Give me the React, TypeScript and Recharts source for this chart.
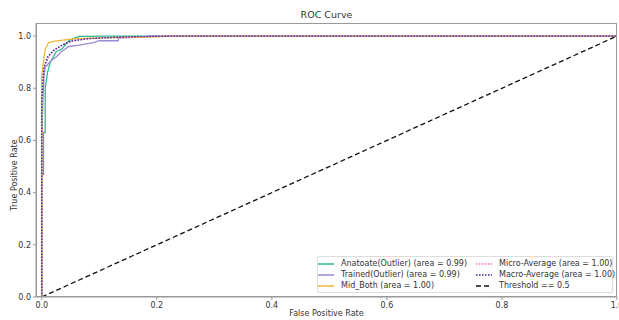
import React from 'react';
import { LineChart, Line, XAxis, YAxis } from 'recharts';

// ROC points, [fpr, tpr]
const anatoate: [number, number][] = [
    [0, 0], [0, 0.47], [0.003, 0.47], [0.003, 0.63], [0.006, 0.63], [0.006, 0.8],
    [0.01, 0.86], [0.015, 0.9], [0.025, 0.94], [0.035, 0.95], [0.046, 0.98],
    [0.055, 0.99], [0.065, 0.999], [0.12, 1], [1, 1],
];
const trained: [number, number][] = [
    [0, 0], [0, 0.6], [0.002, 0.75], [0.004, 0.85], [0.006, 0.88], [0.016, 0.905],
    [0.025, 0.92], [0.034, 0.94], [0.047, 0.96], [0.065, 0.965], [0.09, 0.975],
    [0.1, 0.982], [0.133, 0.982], [0.133, 0.992], [0.16, 0.995], [0.19, 1], [1, 1],
];
const midBoth: [number, number][] = [
    [0, 0], [0, 0.85], [0.003, 0.9], [0.006, 0.95], [0.012, 0.975], [0.02, 0.98],
    [0.04, 0.985], [0.06, 0.99], [0.1, 0.993], [0.2, 0.997], [0.22, 1], [1, 1],
];
const microAvg: [number, number][] = [
    [0, 0], [0, 0.8], [0.003, 0.87], [0.008, 0.9], [0.015, 0.93], [0.025, 0.95],
    [0.04, 0.97], [0.06, 0.985], [0.1, 0.993], [0.15, 0.997], [0.23, 1], [1, 1],
];
const macroAvg: [number, number][] = [
    [0, 0], [0, 0.75], [0.004, 0.88], [0.01, 0.92], [0.02, 0.945], [0.035, 0.965],
    [0.05, 0.98], [0.08, 0.99], [0.15, 0.997], [0.24, 1], [1, 1],
];
const threshold: [number, number][] = [[0, 0], [1, 1]];

const xTicks = [0, 0.2, 0.4, 0.6, 0.8, 1.0];
const yTicks = [0, 0.2, 0.4, 0.6, 0.8, 1.0];

const series = [
    { name: 'Anatoate(Outlier) (area = 0.99)', pts: anatoate, color: '#2bbd8c', dash: undefined },
    { name: 'Trained(Outlier) (area = 0.99)', pts: trained, color: '#9a8ad8', dash: undefined },
    { name: 'Mid_Both (area = 1.00)', pts: midBoth, color: '#f0b83a', dash: undefined },
    { name: 'Micro-Average (area = 1.00)', pts: microAvg, color: '#ff5fc8', dash: '1.5 1.5' },
    { name: 'Macro-Average (area = 1.00)', pts: macroAvg, color: '#2a2a9a', dash: '1.5 1.5' },
    { name: 'Threshold == 0.5', pts: threshold, color: '#111111', dash: '5 3' },
];

const font = '"DejaVu Sans", sans-serif';
const spine = '#999';
const textColor = '#333';
const tickStyle = { fontSize: 8, fill: textColor, fontFamily: font };

const toRows = (pts: [number, number][]) => pts.map(([x, y]) => ({ x, y }));

const LegendBox = () => (
    // two columns, filled column by column like matplotlib ncol=2
    <div style={{ position: 'absolute', left: 0, top: 0, fontFamily: font, fontSize: 8, color: textColor }}>
        <div style={{
            position: 'absolute', left: 317, top: 256, width: 296, height: 37,
            border: '1px solid #ddd', borderRadius: 2, background: 'rgba(255,255,255,0.8)', boxSizing: 'border-box',
        }} />
        {series.map((s, i) => {
            const col = Math.floor(i / 3);
            const row = i % 3;
            const x = col === 0 ? 318 : 476;
            const y = 263.5 + row * 11;
            return (
                <div key={s.name} style={{
                    position: 'absolute', left: x, top: y - 6, height: 12,
                    display: 'flex', alignItems: 'center', whiteSpace: 'nowrap',
                }}>
                    <svg width={23} height={6}>
                        <line x1={0} y1={3} x2={16} y2={3} stroke={s.color} strokeWidth={1.5} strokeDasharray={s.dash} />
                    </svg>
                    <span>{s.name}</span>
                </div>
            );
        })}
    </div>
);

export default function App() {
    return (
        <div style={{ position: 'absolute', left: 0, top: 0, width: 619, height: 320, background: '#fff' }}>
            <LineChart width={619} height={320} margin={{ top: 23, right: 2, left: 0, bottom: 0 }}>
                <XAxis
                    dataKey="x" type="number" domain={[-0.01, 1.0]} allowDataOverflow
                    ticks={xTicks} tickFormatter={(v: number) => v.toFixed(1)}
                    height={23} stroke={spine} tick={tickStyle} tickSize={3} interval={0}
                />
                <YAxis
                    type="number" domain={[0, 1.05]} allowDataOverflow ticks={yTicks}
                    tickFormatter={(v: number) => v.toFixed(1)} width={36}
                    stroke={spine} tick={tickStyle} tickSize={3} interval={0}
                />
                {series.map((s) => (
                    <Line
                        key={s.name} data={toRows(s.pts)} dataKey="y" name={s.name} type="linear"
                        stroke={s.color} strokeWidth={1.3} strokeDasharray={s.dash}
                        dot={false} activeDot={false} isAnimationActive={false}
                    />
                ))}
            </LineChart>
            {/* frame */}
            <div style={{
                position: 'absolute', left: 36, top: 23, width: 581, height: 274,
                border: `1px solid ${spine}`, boxSizing: 'border-box', pointerEvents: 'none',
            }} />
            <div style={{
                position: 'absolute', top: 9, left: 36, width: 581, textAlign: 'center',
                fontFamily: font, fontSize: 9.5, color: textColor,
            }}>ROC Curve</div>
            <div style={{
                position: 'absolute', top: 309, left: 36, width: 581, textAlign: 'center',
                fontFamily: font, fontSize: 8, color: textColor,
            }}>False Positive Rate</div>
            <div style={{ position: 'absolute', top: 175, left: 14, width: 0, height: 0 }}>
                <div style={{
                    position: 'absolute', transform: 'translate(-50%, -50%) rotate(-90deg)',
                    whiteSpace: 'nowrap', fontFamily: font, fontSize: 8, color: textColor,
                }}>True Positive Rate</div>
            </div>
            <LegendBox />
        </div>
    );
}
